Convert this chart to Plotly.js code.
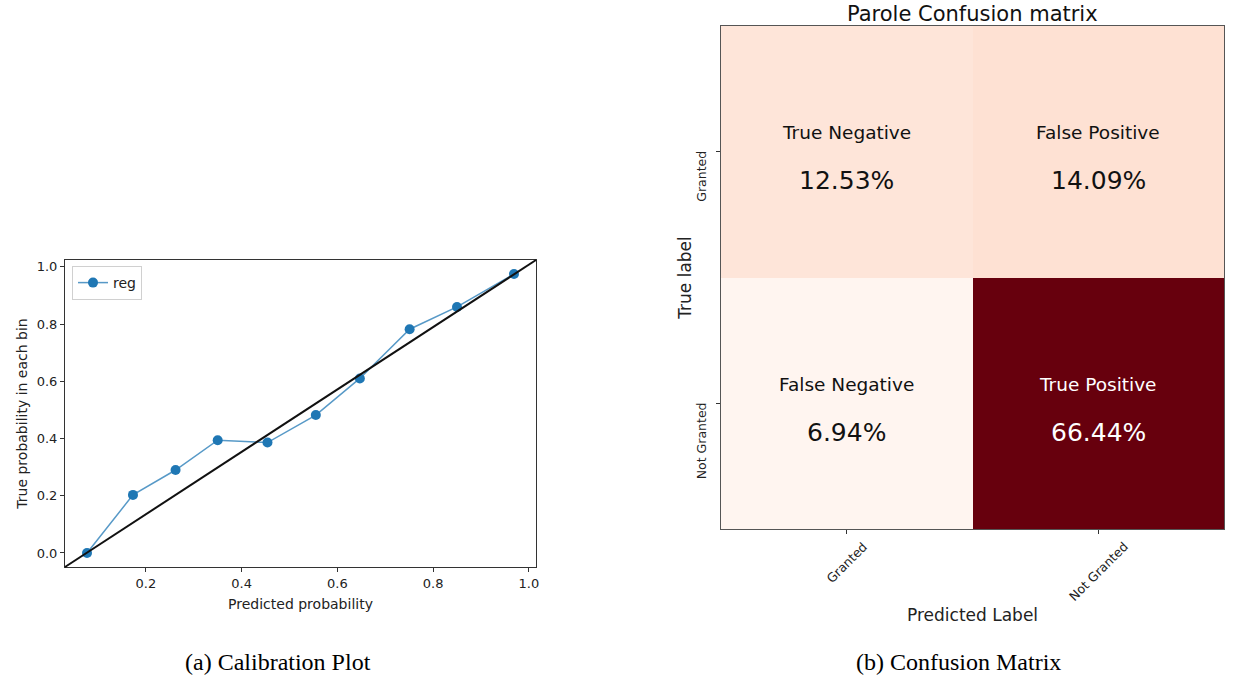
<!DOCTYPE html>
<html>
<head>
<meta charset="utf-8">
<script src="https://cdn.plot.ly/plotly-3.0.1.min.js"></script>
<style>
html,body{margin:0;padding:0;background:#fff;}
#chart{width:1233px;height:676px;}
</style>
</head>
<body>
<div id="chart"></div>
<script>
// ---- Calibration plot data ----
const predictedProb = [0.077, 0.173, 0.262, 0.350, 0.454, 0.555, 0.647, 0.751, 0.850, 0.969];
const trueProb      = [0.000, 0.203, 0.290, 0.394, 0.386, 0.482, 0.610, 0.782, 0.860, 0.975];
const calibTicks    = [0.2, 0.4, 0.6, 0.8, 1.0];
const calibYTicks   = [0.0, 0.2, 0.4, 0.6, 0.8, 1.0];
const seriesName    = "reg";

// ---- Confusion matrix data ----
const classLabels   = ["Granted", "Not Granted"];
const cmPercent     = [[12.53, 14.09], [6.94, 66.44]];
const cmNames       = [["True Negative", "False Positive"], ["False Negative", "True Positive"]];

// matplotlib "Reds" colormap
const redsScale = [
  [0.0, "#fff5f0"], [0.125, "#fee0d2"], [0.25, "#fcbba1"], [0.375, "#fc9272"],
  [0.5, "#fb6a4a"], [0.625, "#ef3b2c"], [0.75, "#cb181d"], [0.875, "#a50f15"], [1.0, "#67000d"]
];

const W = 1233, H = 676;
const dom = (a, b) => [a / W, b / W];
const domY = (top, bottom) => [1 - bottom / H, 1 - top / H];

const flat = cmPercent.flat();
const zMin = Math.min(...flat), zMax = Math.max(...flat);

const traces = [
  {
    type: "scatter", mode: "lines+markers", name: seriesName,
    x: predictedProb, y: trueProb, xaxis: "x", yaxis: "y",
    line: {color: "rgba(31,119,180,0.75)", width: 1.5},
    marker: {color: "#1f77b4", size: 10},
    showlegend: true
  },
  {
    type: "heatmap", x: classLabels, y: classLabels, z: cmPercent,
    xaxis: "x2", yaxis: "y2", colorscale: redsScale, zmin: zMin, zmax: zMax,
    showscale: false, hoverinfo: "skip", xgap: 0, ygap: 0
  }
];

const annotations = [];
const midZ = (zMin + zMax) / 2;
for (let r = 0; r < classLabels.length; r++) {
  for (let c = 0; c < classLabels.length; c++) {
    const col = cmPercent[r][c] > midZ ? "#ffffff" : "#111111";
    annotations.push({
      x: classLabels[c], y: classLabels[r], xref: "x2", yref: "y2",
      text: cmNames[r][c], showarrow: false, yshift: 19,
      font: {family: "DejaVu Sans", size: 18.5, color: col}
    });
    annotations.push({
      x: classLabels[c], y: classLabels[r], xref: "x2", yref: "y2",
      text: cmPercent[r][c].toFixed(2) + "%", showarrow: false, yshift: -29,
      font: {family: "DejaVu Sans", size: 25, color: col}
    });
  }
}
// y tick labels for the matrix (rotated, starting at the tick and running down)
classLabels.forEach(lbl => {
  annotations.push({
    x: 0, xref: "x2 domain", y: lbl, yref: "y2", text: lbl, showarrow: false,
    textangle: -90, xanchor: "right", yanchor: "top", xshift: -10, yshift: 3,
    font: {family: "DejaVu Sans", size: 12.5, color: "#222"}
  });
});
// x tick labels for the matrix (rotated 45°, centred on the tick)
classLabels.forEach(lbl => {
  annotations.push({
    x: lbl, xref: "x2", y: 0, yref: "y2 domain", text: lbl, showarrow: false,
    textangle: -45, xanchor: "center", yanchor: "top", yshift: -7,
    font: {family: "DejaVu Sans", size: 12.5, color: "#222"}
  });
});
// captions
annotations.push({
  x: 278 / W, y: 1 - 662 / H, xref: "paper", yref: "paper", showarrow: false,
  xanchor: "center", yanchor: "middle",
  text: "(a) Calibration Plot", font: {family: "Liberation Serif", size: 24, color: "#000"}
});
annotations.push({
  x: 958 / W, y: 1 - 662 / H, xref: "paper", yref: "paper", showarrow: false,
  xanchor: "center", yanchor: "middle",
  text: "(b) Confusion Matrix", font: {family: "Liberation Serif", size: 24, color: "#000"}
});
// matrix title
annotations.push({
  x: 972 / W, y: 1 - 14 / H, xref: "paper", yref: "paper", showarrow: false,
  xanchor: "center", yanchor: "middle",
  text: "Parole Confusion matrix", font: {family: "DejaVu Sans", size: 21, color: "#111"}
});
// matrix x-axis title
annotations.push({
  x: 0.5, xref: "x2 domain", y: 1 - 615 / H, yref: "paper", showarrow: false,
  xanchor: "center", yanchor: "middle",
  text: "Predicted Label", font: {family: "DejaVu Sans", size: 17, color: "#222"}
});

const tickFont = {family: "DejaVu Sans", size: 13, color: "#222"};

const layout = {
  width: W, height: H,
  margin: {l: 0, r: 0, t: 0, b: 0},
  paper_bgcolor: "#fff", plot_bgcolor: "#fff",
  showlegend: true,
  legend: {
    x: 72 / W, y: 1 - 266 / H, xanchor: "left", yanchor: "top",
    bgcolor: "#fff", bordercolor: "#d0d0d0", borderwidth: 1,
    font: {family: "DejaVu Sans", size: 14, color: "#222"},
    itemwidth: 30
  },
  xaxis: {
    domain: dom(65, 536), range: [0.031, 1.015], anchor: "y",
    tickvals: calibTicks, ticktext: calibTicks.map(v => v.toFixed(1)),
    ticks: "outside", ticklen: 4, tickcolor: "#333", showgrid: false, zeroline: false,
    showline: true, linecolor: "#333", linewidth: 1, mirror: true,
    tickfont: tickFont,
    title: {text: "Predicted probability", font: {family: "DejaVu Sans", size: 14, color: "#222"}, standoff: 9}
  },
  yaxis: {
    domain: domY(260, 567), range: [-0.049, 1.024], anchor: "x",
    tickvals: calibYTicks, ticktext: calibYTicks.map(v => v.toFixed(1)),
    ticks: "outside", ticklen: 4, tickcolor: "#333", showgrid: false, zeroline: false,
    showline: true, linecolor: "#333", linewidth: 1, mirror: true,
    tickfont: tickFont,
    title: {text: "True probability in each bin", font: {family: "DejaVu Sans", size: 14, color: "#222"}, standoff: 5}
  },
  xaxis2: {
    domain: dom(721, 1224), anchor: "y2", type: "category",
    ticks: "outside", ticklen: 4, tickcolor: "#333", showticklabels: false,
    showline: true, linecolor: "#555", linewidth: 1.2, mirror: true, showgrid: false, zeroline: false
  },
  yaxis2: {
    domain: domY(26, 529), anchor: "x2", type: "category", autorange: "reversed",
    ticks: "outside", ticklen: 4, tickcolor: "#333", showticklabels: false,
    showline: true, linecolor: "#555", linewidth: 1.2, mirror: true, showgrid: false, zeroline: false,
    title: {text: "True label", font: {family: "DejaVu Sans", size: 17, color: "#222"}, standoff: 19}
  },
  shapes: [
    {type: "line", xref: "x domain", yref: "y domain", x0: 0, y0: 0, x1: 1, y1: 1,
     line: {color: "#111", width: 2}, layer: "above"}
  ],
  annotations: annotations
};

Plotly.newPlot("chart", traces, layout, {displayModeBar: false, staticPlot: true});
</script>
</body>
</html>
